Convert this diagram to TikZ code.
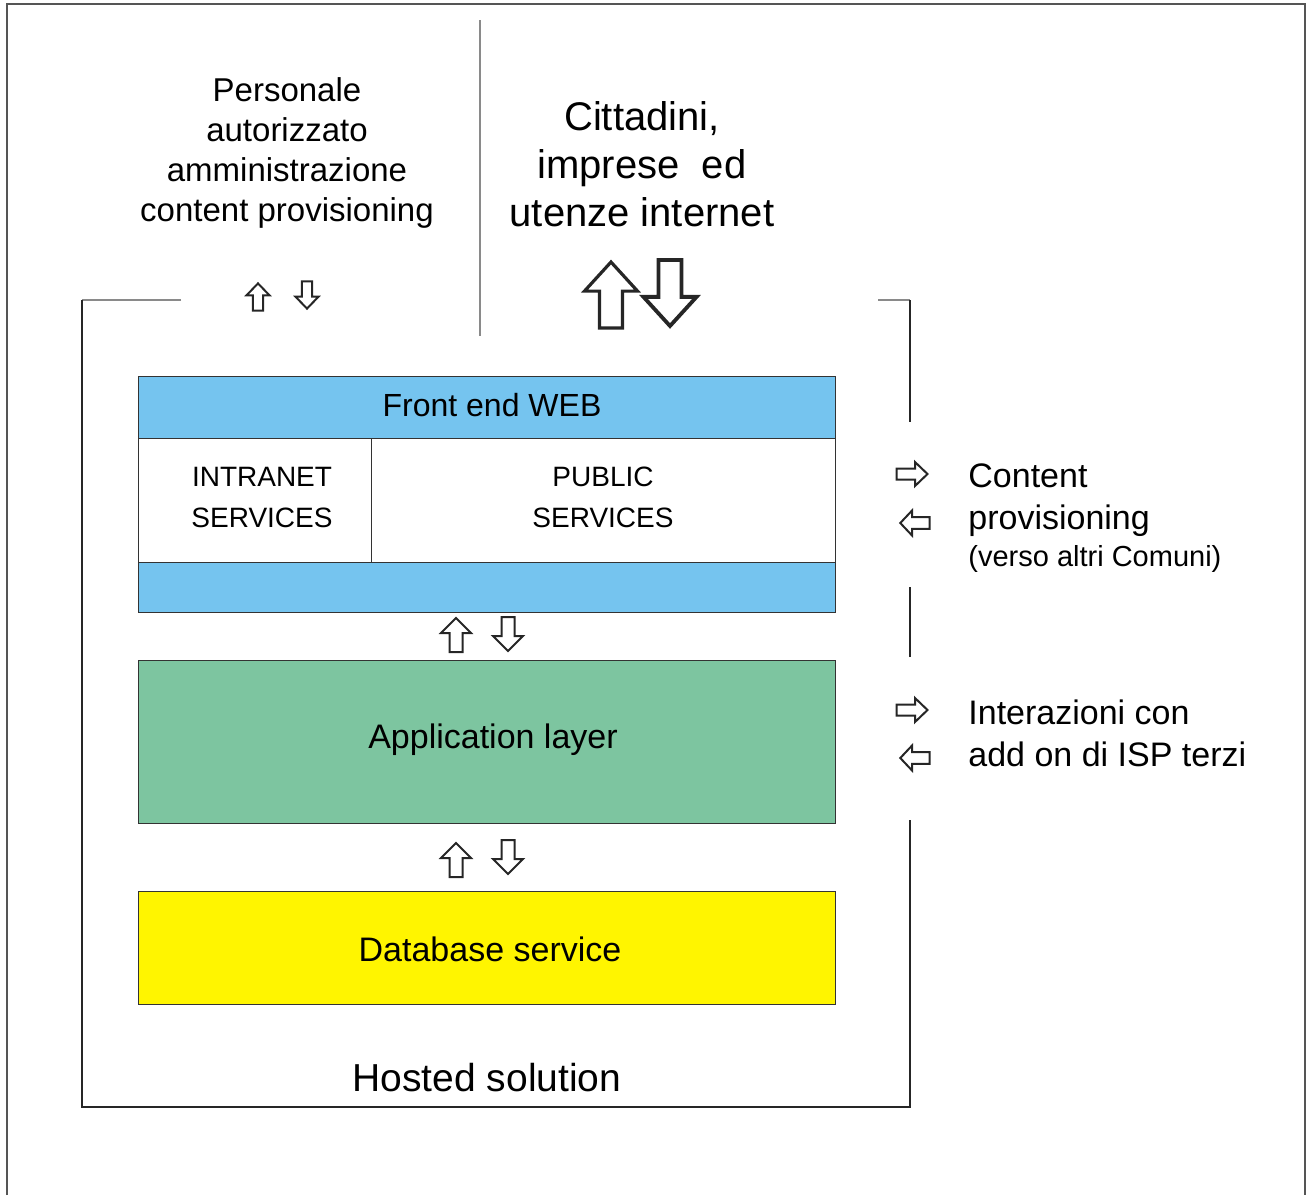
\documentclass[tikz,border=0pt]{standalone}
\usepackage{fontspec}
\setmainfont{Liberation Sans}
\definecolor{webblue}{HTML}{75C4EF}
\definecolor{appgreen}{HTML}{7DC5A0}
\definecolor{dbyellow}{HTML}{FFF500}
\definecolor{framegray}{HTML}{555555}
\definecolor{lightline}{HTML}{8A8A8A}
\tikzset{
  layerbox/.style={draw=black!80, line width=0.5pt, inner sep=0pt, outer sep=0pt},
  txt/.style={inner sep=0pt, align=center, text=black},
  ltxt/.style={inner sep=0pt, align=left, anchor=west, text=black},
  barrow/.style={draw=black!85, line width=1pt, fill=white, line join=miter},
  bigarrow/.style={draw=black!85, line width=1.6pt, fill=white, line join=miter},
  pics/uparr/.style={code={
    \path[pic actions] (0,-17) -- (15,-2) -- (6.5,-2) -- (6.5,17) -- (-6.5,17) -- (-6.5,-2) -- (-15,-2) -- cycle;
  }},
  pics/rightarr/.style={code={
    \path[pic actions] (15.5,0) -- (3,-12) -- (3,-5.5) -- (-15.5,-5.5) -- (-15.5,5.5) -- (3,5.5) -- (3,12) -- cycle;
  }}
}
\begin{document}
\begin{tikzpicture}[x=0.5pt,y=-0.5pt]
\useasboundingbox (0,0) rectangle (1306,1195);
% outer frame
\draw[framegray, line width=1pt] (7,1195) -- (7,4) -- (1305,4) -- (1305,1195);
% divider
\draw[lightline, line width=0.8pt] (480,20) -- (480,336);
% hosted frame
\draw[lightline, line width=0.9pt] (181,300) -- (82,300);
\draw[lightline, line width=0.9pt] (878,300) -- (910,300);
\draw[black!85, line width=0.8pt] (82,300) -- (82,1107) -- (910,1107) -- (910,820);
\draw[black!85, line width=0.8pt] (910,657) -- (910,587);
\draw[black!85, line width=0.8pt] (910,300) -- (910,422);

% front end block
\node[layerbox, fill=webblue, minimum width=697*0.5pt, minimum height=62*0.5pt, anchor=north west] (web) at (138,376) {};
\node[layerbox, fill=white, minimum width=233*0.5pt, minimum height=124*0.5pt, anchor=north west] (intra) at (138,438) {};
\node[layerbox, fill=white, minimum width=464*0.5pt, minimum height=124*0.5pt, anchor=north west] (public) at (371,438) {};
\node[layerbox, fill=webblue, minimum width=697*0.5pt, minimum height=50*0.5pt, anchor=north west] (webbottom) at (138,562) {};
\node[layerbox, fill=appgreen, minimum width=697*0.5pt, minimum height=163*0.5pt, anchor=north west] (app) at (138,660) {};
\node[layerbox, fill=dbyellow, minimum width=697*0.5pt, minimum height=113*0.5pt, anchor=north west] (db) at (138,891) {};

% texts
\node[txt, font=\fontsize{16.5}{20}\selectfont] (pers) at (287,153) {Personale\\autorizzato\\amministrazione\\content provisioning};
\node[txt, font=\fontsize{20}{24}\selectfont] (citt) at (642,164) {Cittadini,\\imprese\ \ ed\\utenze internet};
\node[txt, font=\fontsize{16}{20}\selectfont] (webtxt) at (492,405) {Front end WEB};
\node[txt, font=\fontsize{14}{20.5}\selectfont] (intratxt) at (262,497) {INTRANET\\SERVICES};
\node[txt, font=\fontsize{14}{20.5}\selectfont] (pubtxt) at (603,497) {PUBLIC\\SERVICES};
\node[txt, font=\fontsize{17}{20}\selectfont] (apptxt) at (493,740) {Application layer};
\node[txt, font=\fontsize{17}{20}\selectfont] (dbtxt) at (490,949) {Database service};
\node[txt, font=\fontsize{19.5}{23}\selectfont] (hosted) at (487,1078) {Hosted solution};
\node[ltxt, font=\fontsize{17}{21}\selectfont] (content) at (968,500) {Content\\provisioning};
\node[ltxt, font=\fontsize{14.5}{17}\selectfont] (verso) at (968,559) {(verso altri Comuni)};
\node[ltxt, font=\fontsize{17}{21}\selectfont] (inter) at (968,733) {Interazioni con\\add on di ISP terzi};

% small arrows top-left
\pic[barrow, xscale=0.77, yscale=0.8] at (258,297) {uparr};
\pic[barrow, xscale=0.77, yscale=-0.8] at (307,295) {uparr};
% big arrows
\pic[bigarrow, xscale=1.77, yscale=1.94] at (611,295) {uparr};
\pic[bigarrow, line width=1.9pt, xscale=1.77, yscale=-1.94] at (670,293) {uparr};
% between layers
\pic[barrow] at (456,635) {uparr};
\pic[barrow, yscale=-1] at (508,634) {uparr};
\pic[barrow] at (456,860) {uparr};
\pic[barrow, yscale=-1] at (508,857) {uparr};
% right side
\pic[barrow] at (912,474) {rightarr};
\pic[barrow, xscale=-0.95, yscale=1.05] at (915,523) {rightarr};
\pic[barrow] at (912,710) {rightarr};
\pic[barrow, xscale=-0.95, yscale=1.05] at (915,758) {rightarr};
\end{tikzpicture}
\end{document}
